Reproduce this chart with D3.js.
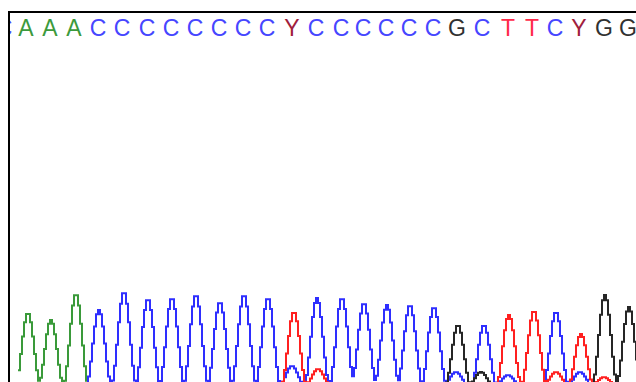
<!DOCTYPE html>
<html>
<head>
<meta charset="utf-8">
<script src="https://cdn.jsdelivr.net/npm/d3@7"></script>
<style>
  html, body { margin: 0; padding: 0; background: #fff; }
  svg { display: block; }
</style>
</head>
<body>
<div id="chart"></div>
<script>
// Base calls along the top
const baseLetters = ['C','A','A','A','C','C','C','C','C','C','C','C','Y','C','C','C','C','C','C','G','C','T','T','C','Y','G','G'];
const basePositions = [4, 26, 50, 74, 98, 122, 147, 171, 195, 219, 243, 267, 292, 316, 341, 363, 386, 409, 433, 457, 482, 508, 532, 555, 579, 604, 628];

// Trace peaks per channel: [position, signal]
const peaksA = [[27, 73], [50, 66], [75, 92]];
const peaksC = [[98, 76], [123, 94], [147, 87], [171, 88], [195, 91], [219, 84], [243, 91], [267, 88],
                [291, 20], [316, 88], [341, 88], [363, 83], [386, 81], [409, 81], [433, 79],
                [455, 14], [483, 61], [507, 11], [555, 74], [579, 14]];
const peaksG = [[457, 61], [480, 14], [604, 91], [628, 79]];
const peaksT = [[293, 74], [317, 17], [508, 71], [533, 75], [555, 14], [580, 52], [603, 9]];

const width = 636, height = 382;
const letterColor = { A: '#3c9a3c', C: '#4646ff', G: '#303030', T: '#ff2848', Y: '#a0203c' };

const channels = [
  { name: 'A', peaks: peaksA, color: '#3a9a3a' },
  { name: 'C', peaks: peaksC, color: '#2e2eff' },
  { name: 'G', peaks: peaksG, color: '#262626' },
  { name: 'T', peaks: peaksT, color: '#ff2020' }
];

const svg = d3.select('#chart').append('svg')
  .attr('width', width)
  .attr('height', height);

const x = d3.scaleLinear().domain([0, width]).range([0, width]);
const y = d3.scaleLinear().domain([0, 100]).range([386, 286]);

// Clip regions
const defs = svg.append('defs');
defs.append('clipPath').attr('id', 'clip-text')
  .append('rect').attr('x', 10).attr('y', 13).attr('width', width - 10).attr('height', 40);
defs.append('clipPath').attr('id', 'clip-trace')
  .append('rect').attr('x', 18).attr('y', 13).attr('width', width - 18).attr('height', height);

// Peak shape (raised cosine, half width in px)
const halfW = 13;
function signalAt(peaks, pos) {
  let s = 0;
  peaks.forEach(([p, h]) => {
    const d = Math.abs(x(pos) - x(p));
    if (d < halfW) s += h * Math.pow(Math.cos(Math.PI * d / (2 * halfW)), 2);
  });
  return s;
}

const samples = d3.range(18, width + 2, 2);
const line = d3.line()
  .x(d => x(d.pos))
  .y(d => y(d.v))
  .curve(d3.curveStepAfter);

const traces = svg.append('g').attr('clip-path', 'url(#clip-trace)');
traces.selectAll('path')
  .data(channels)
  .join('path')
  .attr('fill', 'none')
  .attr('stroke', d => d.color)
  .attr('stroke-width', 2)
  .attr('d', c => line(samples.map(pos => ({ pos, v: signalAt(c.peaks, pos) }))));

// Letters
svg.append('g').attr('clip-path', 'url(#clip-text)')
  .selectAll('text')
  .data(baseLetters)
  .join('text')
  .attr('x', (d, i) => x(basePositions[i]))
  .attr('y', 35.5)
  .attr('text-anchor', 'middle')
  .attr('font-family', '"Liberation Sans", Arial, sans-serif')
  .attr('font-size', 23)
  .attr('fill', d => letterColor[d])
  .text(d => d);

// Frame
svg.append('path')
  .attr('d', `M9,${height} V12 H${width}`)
  .attr('fill', 'none')
  .attr('stroke', '#000')
  .attr('stroke-width', 2);
</script>
</body>
</html>
